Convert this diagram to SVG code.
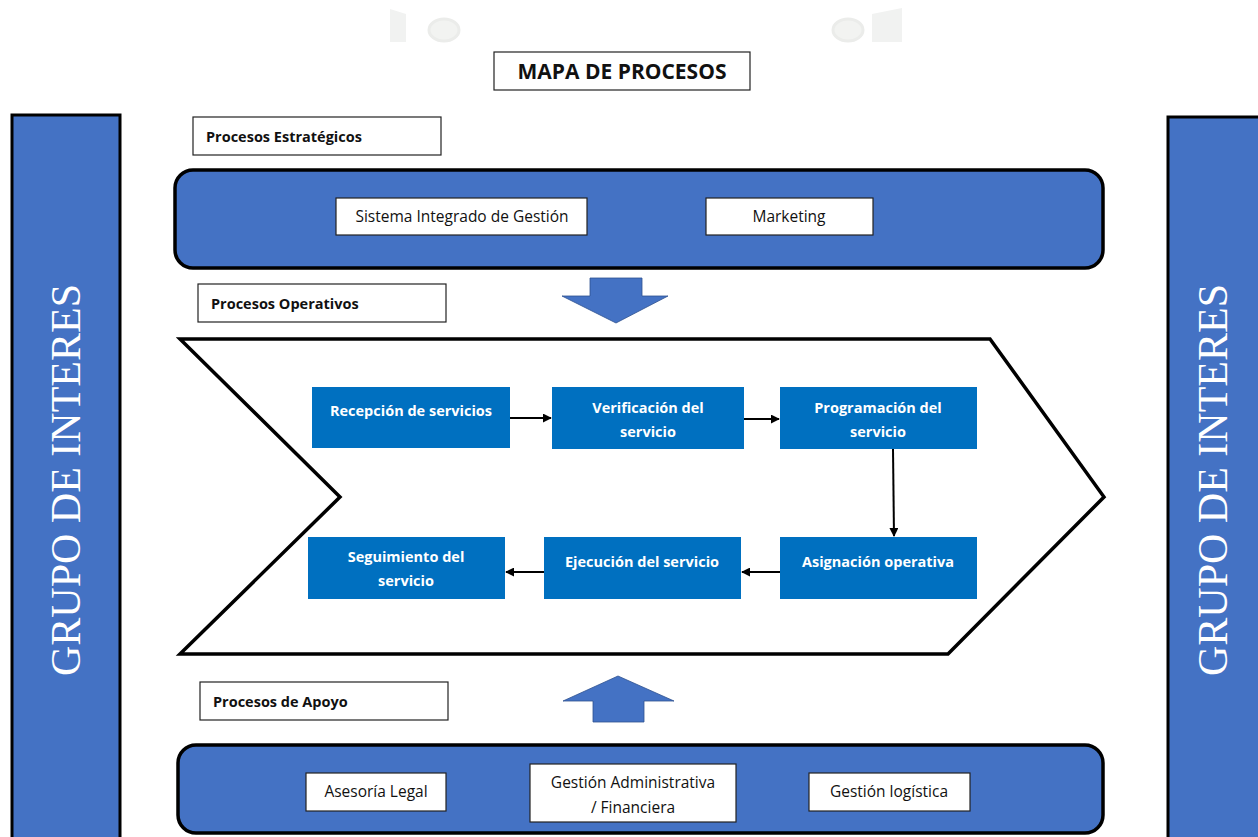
<svg xmlns="http://www.w3.org/2000/svg" width="1258" height="837" viewBox="0 0 1258 837">
  <style>
    .band { fill: #4472C4; stroke: #000; stroke-width: 3; }
    .band-text { font-family: "Liberation Serif", "Times New Roman", serif; font-size: 42px; fill: #fff; text-anchor: middle; }
    .panel { fill: #4472C4; stroke: #000; stroke-width: 3.5; }
    .wbox { fill: #fff; stroke: #222; stroke-width: 1.2; }
    .wtext { font-family: "Open Sans", "Liberation Sans", sans-serif; font-size: 15.5px; fill: #111; text-anchor: middle; }
    .label { font-family: "Open Sans", "Liberation Sans", sans-serif; font-size: 14.5px; font-weight: bold; fill: #111; }
    .title { font-family: "Open Sans", "Liberation Sans", sans-serif; font-size: 21px; font-weight: bold; fill: #111; text-anchor: middle; }
    .proc { fill: #0070C0; }
    .ptext { font-family: "Open Sans", "Liberation Sans", sans-serif; font-size: 14.5px; font-weight: bold; fill: #fff; text-anchor: middle; }
    .flow { stroke: #000; stroke-width: 2; fill: none; marker-end: url(#head); }
    .bigarrow { fill: #4472C4; stroke: #2F528F; stroke-width: 0.8; }
    .faint { fill: #f1f2f1; }
  </style>
  <defs>
    <marker id="head" viewBox="0 0 10 10" refX="9" refY="5" markerWidth="4.5" markerHeight="4.5" orient="auto" markerUnits="strokeWidth">
      <path d="M0,0 L10,5 L0,10 z" fill="#000"/>
    </marker>
  </defs>

  <rect width="1258" height="837" fill="#fff"/>

  <!-- faint decorations along the top edge -->
  <g id="top-decor">
    <polygon class="faint" points="390,9 406,14 406,42 390,42"/>
    <ellipse cx="444" cy="30" rx="15" ry="11" fill="#f2f3f1" stroke="#ebecea" stroke-width="3"/>
    <ellipse cx="848" cy="30" rx="15" ry="11" fill="#f2f3f1" stroke="#ebecea" stroke-width="3"/>
    <polygon class="faint" points="872,14 902,8 902,42 872,42"/>
  </g>

  <!-- side bands -->
  <g id="grupo-izq">
    <rect class="band" x="12" y="115" width="108" height="740"/>
    <text class="band-text" transform="translate(80,480) rotate(-90)">GRUPO DE INTERES</text>
  </g>
  <g id="grupo-der">
    <rect class="band" x="1168" y="117" width="100" height="740"/>
    <text class="band-text" transform="translate(1227,480) rotate(-90)">GRUPO DE INTERES</text>
  </g>

  <!-- title -->
  <g id="titulo">
    <rect class="wbox" x="494" y="52" width="256" height="38"/>
    <text class="title" x="622" y="79">MAPA DE PROCESOS</text>
  </g>

  <!-- strategic processes -->
  <g id="lbl-estrategicos">
    <rect class="wbox" x="193" y="117" width="248" height="38"/>
    <text class="label" x="206" y="142">Procesos Estratégicos</text>
  </g>
  <g id="estrategicos">
    <rect class="panel" x="175" y="170" width="928" height="98" rx="18"/>
  </g>
  <g id="sig">
    <rect class="wbox" x="336" y="198" width="251" height="37"/>
    <text class="wtext" x="462" y="222">Sistema Integrado de Gestión</text>
  </g>
  <g id="marketing">
    <rect class="wbox" x="706" y="198" width="167" height="37"/>
    <text class="wtext" x="789" y="222">Marketing</text>
  </g>

  <!-- down arrow -->
  <g id="flecha-baja">
    <polygon class="bigarrow" points="590,278 642,278 642,296 668,296 616,323 562,296 590,296"/>
  </g>

  <!-- operative processes -->
  <g id="lbl-operativos">
    <rect class="wbox" x="198" y="284" width="248" height="38"/>
    <text class="label" x="211" y="309">Procesos Operativos</text>
  </g>
  <g id="operativos">
    <polygon points="180,339 990,339 1104,497 948,654 180,654 340,497" fill="#fff" stroke="#000" stroke-width="3.5" stroke-linejoin="miter"/>
  </g>

  <g id="recepcion">
    <rect class="proc" x="312" y="387" width="198" height="61"/>
    <text class="ptext" x="411" y="416">Recepción de servicios</text>
  </g>
  <g id="verificacion">
    <rect class="proc" x="552" y="387" width="192" height="62"/>
    <text class="ptext" x="648" y="413">Verificación del</text>
    <text class="ptext" x="648" y="437">servicio</text>
  </g>
  <g id="programacion">
    <rect class="proc" x="780" y="387" width="197" height="62"/>
    <text class="ptext" x="878" y="413">Programación del</text>
    <text class="ptext" x="878" y="437">servicio</text>
  </g>
  <g id="asignacion">
    <rect class="proc" x="780" y="537" width="197" height="62"/>
    <text class="ptext" x="878" y="567">Asignación operativa</text>
  </g>
  <g id="ejecucion">
    <rect class="proc" x="544" y="537" width="197" height="62"/>
    <text class="ptext" x="642" y="567">Ejecución del servicio</text>
  </g>
  <g id="seguimiento">
    <rect class="proc" x="308" y="537" width="197" height="62"/>
    <text class="ptext" x="406" y="562">Seguimiento del</text>
    <text class="ptext" x="406" y="586">servicio</text>
  </g>

  <!-- flow connectors -->
  <g id="conectores">
    <line class="flow" x1="510" y1="418" x2="551" y2="418"/>
    <line class="flow" x1="744" y1="419" x2="779" y2="419"/>
    <line class="flow" x1="893" y1="449" x2="894" y2="536"/>
    <line class="flow" x1="780" y1="572" x2="742" y2="572"/>
    <line class="flow" x1="544" y1="572" x2="506" y2="572"/>
  </g>

  <!-- up arrow -->
  <g id="flecha-sube">
    <polygon class="bigarrow" points="618,676 674,701 644,701 644,722 593,722 593,701 563,701"/>
  </g>

  <!-- support processes -->
  <g id="lbl-apoyo">
    <rect class="wbox" x="200" y="682" width="248" height="38"/>
    <text class="label" x="213" y="707">Procesos de Apoyo</text>
  </g>
  <g id="apoyo">
    <rect class="panel" x="178" y="745" width="925" height="88" rx="18"/>
  </g>
  <g id="asesoria">
    <rect class="wbox" x="306" y="773" width="140" height="38"/>
    <text class="wtext" x="376" y="797">Asesoría Legal</text>
  </g>
  <g id="gestion-adm">
    <rect class="wbox" x="530" y="764" width="206" height="58"/>
    <text class="wtext" x="633" y="788">Gestión Administrativa</text>
    <text class="wtext" x="633" y="813">/ Financiera</text>
  </g>
  <g id="gestion-log">
    <rect class="wbox" x="809" y="773" width="161" height="38"/>
    <text class="wtext" x="889" y="797">Gestión logística</text>
  </g>
</svg>
